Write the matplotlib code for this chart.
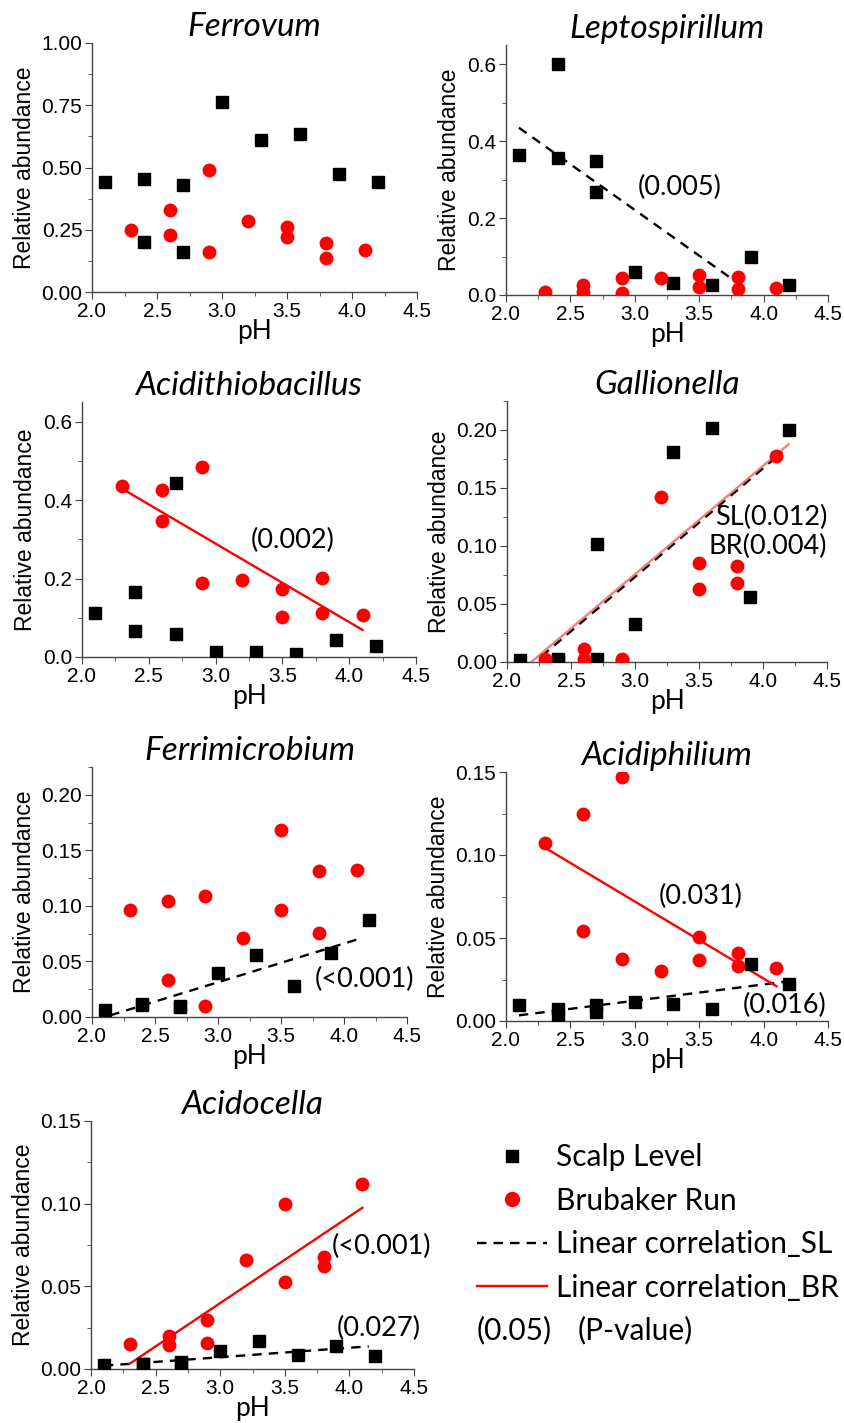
import matplotlib
matplotlib.use("Agg")
import matplotlib.pyplot as plt
from matplotlib.lines import Line2D
from matplotlib.ticker import MultipleLocator

# pH of the sampling points
ph_sl = [2.1, 2.4, 2.4, 2.7, 2.7, 3.0, 3.3, 3.6, 3.9, 4.2]
ph_br = [2.3, 2.6, 2.6, 2.9, 2.9, 3.2, 3.5, 3.5, 3.8, 3.8, 4.1]

# relative abundance, Scalp Level (SL) and Brubaker Run (BR)
ferrovum_sl = [0.44, 0.455, 0.20, 0.43, 0.16, 0.765, 0.61, 0.635, 0.475, 0.44]
ferrovum_br = [0.25, 0.33, 0.23, 0.49, 0.16, 0.285, 0.26, 0.22, 0.195, 0.135, 0.17]

lepto_sl = [0.365, 0.60, 0.357, 0.349, 0.269, 0.061, 0.031, 0.025, 0.10, 0.025]
lepto_br = [0.009, 0.025, 0.008, 0.043, 0.005, 0.045, 0.053, 0.022, 0.048, 0.016, 0.017]

acidithio_sl = [0.112, 0.165, 0.067, 0.444, 0.058, 0.013, 0.012, 0.008, 0.044, 0.029]
acidithio_br = [0.437, 0.425, 0.346, 0.484, 0.189, 0.195, 0.174, 0.102, 0.202, 0.113, 0.107]

gallio_sl = [0.002, 0.003, 0.002, 0.102, 0.003, 0.033, 0.181, 0.202, 0.056, 0.200]
gallio_br = [0.003, 0.011, 0.003, 0.003, 0.002, 0.142, 0.085, 0.063, 0.083, 0.068, 0.178]

ferrimicro_sl = [0.006, 0.012, 0.011, 0.0096, 0.009, 0.040, 0.056, 0.0275, 0.0575, 0.087]
ferrimicro_br = [0.096, 0.104, 0.0335, 0.109, 0.0096, 0.071, 0.168, 0.096, 0.131, 0.076, 0.1326]

acidiph_sl = [0.0095, 0.0075, 0.0035, 0.0095, 0.0055, 0.0115, 0.0105, 0.0075, 0.0346, 0.0225]
acidiph_br = [0.107, 0.125, 0.0543, 0.1468, 0.0376, 0.030, 0.0507, 0.037, 0.041, 0.033, 0.032]

acidoc_sl = [0.0026, 0.0032, 0.003, 0.0036, 0.004, 0.011, 0.017, 0.0086, 0.0137, 0.008]
acidoc_br = [0.0153, 0.0197, 0.0143, 0.0298, 0.016, 0.066, 0.100, 0.0529, 0.068, 0.062, 0.1116]

# fitted lines (end points)
lepto_fit_sl = ([2.1, 3.88], [0.435, 0.012])
acidithio_fit_br = ([2.3, 4.1], [0.429, 0.069])
gallio_fit_sl = ([2.27, 4.15], [0.005, 0.181])
gallio_fit_br = ([2.19, 4.2], [0.0, 0.1877])
ferrimicro_fit_sl = ([2.145, 4.14], [0.0015, 0.071])
acidiph_fit_sl = ([2.1, 4.2], [0.0034, 0.024])
acidiph_fit_br = ([2.3, 4.1], [0.1045, 0.0209])
acidoc_fit_sl = ([2.1, 4.15], [0.002, 0.0137])
acidoc_fit_br = ([2.3, 4.1], [0.0032, 0.0975])

W, H = 844, 1423
SANS = "Liberation Sans"
CAL = "Lato"


def rect(l, r, t, b):
    return [l / W, 1 - b / H, (r - l) / W, (b - t) / H]


fig = plt.figure(figsize=(W / 100, H / 100), dpi=100)


def panel(box, title, sl, br, ymax, ystep, yminor, yfmt, fits=(), notes=()):
    ax = fig.add_axes(rect(*box))
    for key, (fx, fy) in fits:
        if key == "sl":
            ax.plot(fx, fy, color="black", lw=1.7, dashes=(4, 3), zorder=2)
        elif key == "br":
            ax.plot(fx, fy, color="red", lw=1.7, zorder=2)
        else:
            ax.plot(fx, fy, color="#f06060", lw=1.7, alpha=0.8, zorder=2.5)
    ax.plot(ph_sl, sl, "s", color="black", ms=8.5, zorder=3)
    ax.plot(ph_br, br, "o", color="red", ms=10, mec="none", zorder=3)
    for x, y, txt, ha in notes:
        ax.text(x, y, txt, ha=ha, va="center", fontsize=19.5, family=CAL, zorder=4)
    ax.set_xlim(2.0, 4.5)
    ax.set_ylim(0, ymax)
    ax.xaxis.set_major_locator(MultipleLocator(0.5))
    ax.xaxis.set_minor_locator(MultipleLocator(0.25))
    ax.yaxis.set_major_locator(MultipleLocator(ystep))
    ax.yaxis.set_minor_locator(MultipleLocator(yminor))
    ax.yaxis.set_major_formatter(yfmt)
    ax.xaxis.set_major_formatter("{x:.1f}")
    for s in ["top", "right"]:
        ax.spines[s].set_visible(False)
    for s in ["left", "bottom"]:
        ax.spines[s].set_color("#444444")
        ax.spines[s].set_linewidth(1.0)
    ax.tick_params(which="major", direction="out", length=5, color="#444444",
                   labelsize=15, pad=2)
    ax.tick_params(which="minor", direction="out", length=3, color="#444444")
    for lab in ax.get_xticklabels() + ax.get_yticklabels():
        lab.set_family(SANS)
    ax.set_title(title, fontsize=24, style="italic", family=CAL, pad=5)
    ax.set_xlabel("pH", fontsize=19, family=CAL, labelpad=-1)
    ax.set_ylabel("Relative abundance", fontsize=16.5, family=SANS, labelpad=4)
    return ax


panel((92, 417, 43, 292), "Ferrovum", ferrovum_sl, ferrovum_br, 1.0, 0.25, 0.125, "{x:.2f}")
panel((506, 828, 45, 295), "Leptospirillum", lepto_sl, lepto_br, 0.65, 0.2, 0.1, "{x:.1f}",
      fits=[("sl", lepto_fit_sl)], notes=[(3.35, 0.28, "(0.005)", "center")])
panel((82, 416, 402, 657), "Acidithiobacillus", acidithio_sl, acidithio_br, 0.65, 0.2, 0.1, "{x:.1f}",
      fits=[("br", acidithio_fit_br)], notes=[(3.58, 0.298, "(0.002)", "center")])
panel((507, 827, 401, 662), "Gallionella", gallio_sl, gallio_br, 0.225, 0.05, 0.025, "{x:.2f}",
      fits=[("sl", gallio_fit_sl), ("br_light", gallio_fit_br)],
      notes=[(4.5, 0.125, "SL(0.012)", "right"), (4.5, 0.100, "BR(0.004)", "right")])
panel((92, 407, 767, 1017), "Ferrimicrobium", ferrimicro_sl, ferrimicro_br, 0.225, 0.05, 0.025, "{x:.2f}",
      fits=[("sl", ferrimicro_fit_sl)], notes=[(4.16, 0.0335, "(<0.001)", "center")])
panel((506, 828, 772, 1021), "Acidiphilium", acidiph_sl, acidiph_br, 0.15, 0.05, 0.025, "{x:.2f}",
      fits=[("sl", acidiph_fit_sl), ("br", acidiph_fit_br)],
      notes=[(3.51, 0.0748, "(0.031)", "center"), (4.16, 0.0095, "(0.016)", "center")])
panel((91, 414, 1121, 1369), "Acidocella", acidoc_sl, acidoc_br, 0.15, 0.05, 0.025, "{x:.2f}",
      fits=[("sl", acidoc_fit_sl), ("br", acidoc_fit_br)],
      notes=[(3.86, 0.074, "(<0.001)", "left"), (4.23, 0.0247, "(0.027)", "center")])

# legend panel
handles = [
    Line2D([], [], marker="s", ls="none", color="black", ms=9),
    Line2D([], [], marker="o", ls="none", color="red", mec="none", ms=11),
    Line2D([], [], color="black", lw=1.7, dashes=(4, 3)),
    Line2D([], [], color="red", lw=1.7),
]
labels = ["Scalp Level", "Brubaker Run", "Linear correlation_SL", "Linear correlation_BR"]
fig.legend(handles, labels, loc="upper left", bbox_to_anchor=(477 / W, 1 - 1143 / H),
           frameon=False, prop={"family": CAL, "size": 21.5}, handlelength=2.35,
           handletextpad=0.3, labelspacing=0.52, borderaxespad=0, borderpad=0)
fig.text(477 / W, 1 - 1330 / H, "(0.05)", fontsize=21.5, family=CAL, va="center")
fig.text(578 / W, 1 - 1330 / H, "(P-value)", fontsize=21.5, family=CAL, va="center")

fig.savefig("out.png", dpi=100, facecolor="white")
